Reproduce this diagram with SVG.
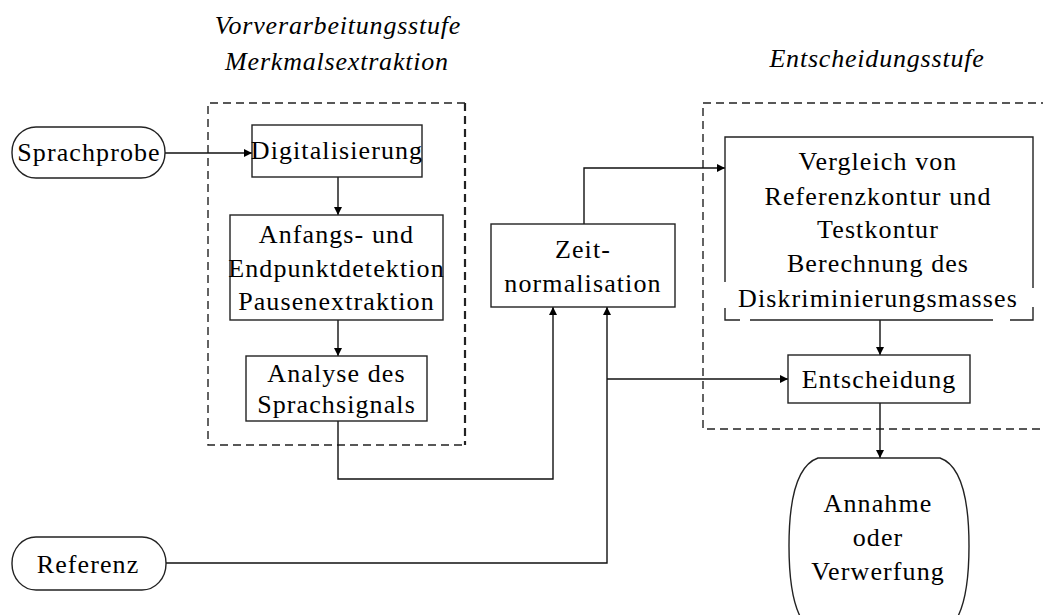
<svg xmlns="http://www.w3.org/2000/svg" width="1043" height="615" viewBox="0 0 1043 615">
<style>
text{font-family:"Liberation Serif","Times New Roman",serif;font-size:26px;fill:#000;text-anchor:middle;letter-spacing:1.1px}
.title{font-style:italic;letter-spacing:0.8px}
.box{fill:#fff;stroke:#222;stroke-width:1.4}
.grp{fill:none;stroke:#222;stroke-width:1.4;stroke-dasharray:8 5}
.ln{fill:none;stroke:#111;stroke-width:1.4}
</style>
<defs>
<marker id="ah" viewBox="0 0 10 10" refX="10" refY="5" markerWidth="8" markerHeight="8" markerUnits="userSpaceOnUse" orient="auto">
<path d="M0,0 L10,5 L0,10 Z" fill="#000"/>
</marker>
</defs>
<rect width="1043" height="615" fill="#fff"/>

<g id="titles">
<text class="title" x="338" y="34">Vorverarbeitungsstufe</text>
<text class="title" x="337" y="70">Merkmalsextraktion</text>
<text class="title" x="877" y="67">Entscheidungsstufe</text>
</g>

<g id="group-vorverarbeitung">
<path class="grp" d="M465,103 L208,103 L208,445 L465,445"/>
<path class="grp" d="M465,103 L465,445" style="stroke-width:2.2"/>
</g>
<g id="group-entscheidung">
<rect class="grp" x="703" y="103" width="350" height="326"/>
</g>

<g id="connectors">
<line class="ln" x1="165" y1="153" x2="252" y2="153" marker-end="url(#ah)"/>
<line class="ln" x1="338" y1="177" x2="338" y2="215" marker-end="url(#ah)"/>
<line class="ln" x1="338" y1="320" x2="338" y2="356" marker-end="url(#ah)"/>
<polyline class="ln" points="338,421 338,479 553,479 553,307" marker-end="url(#ah)"/>
<polyline class="ln" points="166,563 607,563 607,307" marker-end="url(#ah)"/>
<polyline class="ln" points="607,379 788,379" marker-end="url(#ah)"/>
<polyline class="ln" points="584,224 584,168 725,168" marker-end="url(#ah)"/>
<line class="ln" x1="880" y1="320" x2="880" y2="355" marker-end="url(#ah)"/>
<line class="ln" x1="880" y1="403" x2="880" y2="458" marker-end="url(#ah)"/>
</g>

<g id="sprachprobe">
<rect class="box" x="12" y="127" width="153" height="51" rx="24" ry="25"/>
<text x="89" y="161">Sprachprobe</text>
</g>

<g id="digitalisierung">
<rect class="box" x="252" y="125" width="170" height="52"/>
<text x="337" y="159">Digitalisierung</text>
</g>

<g id="anfangs">
<rect class="box" x="230" y="215" width="213" height="105"/>
<text x="336.5" y="243">Anfangs- und</text>
<text x="336.5" y="277">Endpunktdetektion</text>
<text x="336.5" y="310">Pausenextraktion</text>
</g>

<g id="analyse">
<rect class="box" x="246" y="356" width="181" height="65"/>
<text x="336.5" y="382">Analyse des</text>
<text x="336.5" y="413">Sprachsignals</text>
</g>

<g id="zeitnormalisation">
<rect class="box" x="491" y="224" width="184" height="83"/>
<text x="583" y="258">Zeit-</text>
<text x="583" y="292">normalisation</text>
</g>

<g id="vergleich">
<path d="M725,282 L725,137 L1033,137 L1033,288 M1033,307 L1033,320 L1010,320 M993,320 L750,320 M740,320 L725,320 L725,308" fill="none" stroke="#222" stroke-width="1.4"/>
<text x="878" y="170">Vergleich von</text>
<text x="878" y="205">Referenzkontur und</text>
<text x="878" y="238">Testkontur</text>
<text x="878" y="272">Berechnung des</text>
<text x="878" y="307">Diskriminierungsmasses</text>
</g>

<g id="entscheidung">
<rect class="box" x="788" y="355" width="182" height="48"/>
<text x="879" y="388">Entscheidung</text>
</g>

<g id="annahme">
<path class="box" d="M818,458 L940,458 Q969,468 969,546 Q969,624 940,634 L818,634 Q789,624 789,546 Q789,468 818,458 Z"/>
<text x="878" y="512">Annahme</text>
<text x="878" y="546">oder</text>
<text x="878" y="580">Verwerfung</text>
</g>

<g id="referenz">
<rect class="box" x="12" y="537" width="154" height="53" rx="24" ry="26"/>
<text x="88" y="573">Referenz</text>
</g>
</svg>
